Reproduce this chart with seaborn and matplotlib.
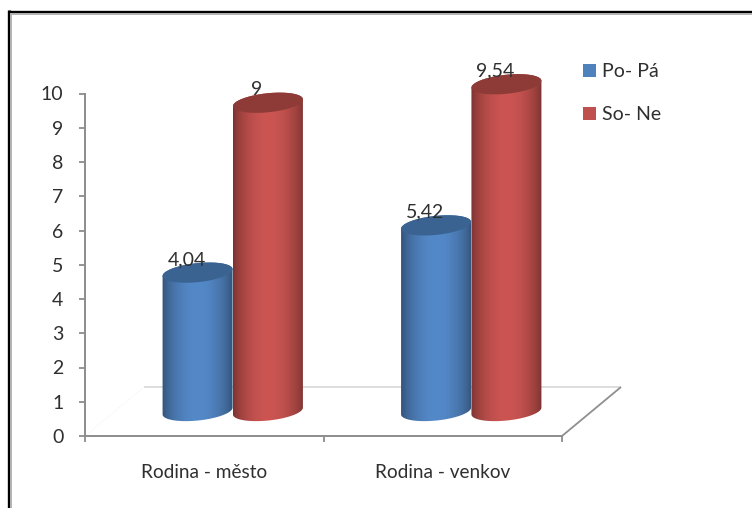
import numpy as np
import pandas as pd
import seaborn as sns
import matplotlib
matplotlib.use("Agg")
import matplotlib.pyplot as plt
from matplotlib.colors import LinearSegmentedColormap
from matplotlib.lines import Line2D
from matplotlib.patches import PathPatch, Patch
from matplotlib.path import Path
from matplotlib.transforms import Affine2D, IdentityTransform

categories = ["Rodina - město", "Rodina - venkov"]
periods = ["Po- Pá", "So- Ne"]
weekday_hours = [4.04, 5.42]
weekend_hours = [9, 9.54]
value_labels = [["4,04", "5,42"], ["9", "9,54"]]
y_ticks = list(range(0, 11))

W, H = 752, 508
AX_L, AX_R, AX_B, AX_T = 85, 562, 436, 93.5   # axes box, pixels from the top-left
BAR_SHIFT = (28.5, 25)                         # cylinders stand mid-way across the floor
FLOOR_DEPTH = (59, 49)
GRAY = "#8c8c8c"
TEXT = "#2f2f2f"
COLORS = {"Po- Pá": "#4f81bd", "So- Ne": "#c0504d"}
CAPS = {"Po- Pá": "#3a6392", "So- Ne": "#8e3b38"}

sns.set_theme(style="white", rc={"axes.facecolor": "none"})
plt.rcParams["font.family"] = ["Lato", "DejaVu Sans"]

fig = plt.figure(figsize=(W / 100, H / 100), dpi=100, facecolor="white")


def box(left, right, bottom, top):
    return [left / W, 1 - bottom / H, (right - left) / W, (bottom - top) / H]


def pixel_line(xs, ys, color, lw, ls="-"):
    fig.add_artist(Line2D(xs, ys, transform=IdentityTransform(), color=color,
                          lw=lw, ls=ls, zorder=-1, solid_capstyle="butt"))


# frame around the whole graphic: open on the right and at the bottom
pixel_line([8.7, 8.7], [0, H - 10], "black", 2.4)
pixel_line([7.5, W], [H - 11.5, H - 11.5], "black", 2.4)
pixel_line([11, 11], [0, H - 13], "#b5b5b5", 1.4)
pixel_line([11, W], [H - 14, H - 14], "#b5b5b5", 1.4)

# visible axes: value scale and floor edge
ax = fig.add_axes(box(AX_L, AX_R, AX_B, AX_T))
ax.set_xlim(-0.5, 1.5)
ax.set_ylim(0, 10)
ax.set_yticks(y_ticks)
ax.set_xticks([-0.5, 0.5, 1.5])
ax.set_xticklabels([])
ax.tick_params(axis="both", length=4.5, width=1.3, color=GRAY, left=True, bottom=True)
ax.tick_params(axis="y", labelsize=14, labelcolor=TEXT, pad=11)
for side in ("top", "right"):
    ax.spines[side].set_visible(False)
for side in ("left", "bottom"):
    ax.spines[side].set_color(GRAY)
    ax.spines[side].set_linewidth(1.4)
for i, name in enumerate(categories):
    ax.annotate(name, xy=(i, 0), xycoords=ax.get_xaxis_transform(),
                xytext=(0, -37 * 0.72), textcoords="offset points",
                ha="center", va="center", fontsize=13.7, color=TEXT)

# floor outline behind the cylinders
dx, dy = FLOOR_DEPTH
left_front = ax.transData.transform((-0.5, 0))
right_front = ax.transData.transform((1.5, 0))
back_left = left_front + (dx, dy)
back_right = right_front + (dx, dy)
pixel_line([back_left[0], back_right[0]], [back_left[1], back_right[1]], "#d4d4d4", 1.1)
pixel_line([right_front[0], back_right[0]], [right_front[1], back_right[1]], "#8f8f8f", 1.3)
pixel_line([left_front[0], back_left[0]], [left_front[1], back_left[1]], "#f0f0f0", 0.7, ":")

# cylinders live on an overlay with the same scale, slid back onto the floor
px_per_unit = (AX_B - AX_T) / 10
margin = 1.5
sx, sy = BAR_SHIFT
over = fig.add_axes(box(AX_L + sx, AX_R + sx,
                        AX_B - sy + margin * px_per_unit,
                        AX_T - sy - margin * px_per_unit))
over.set_facecolor("none")

df = pd.DataFrame({
    "category": categories * 2,
    "period": [periods[0]] * 2 + [periods[1]] * 2,
    "hours": weekday_hours + weekend_hours,
})
sns.barplot(data=df, x="category", y="hours", hue="period", hue_order=periods,
            order=categories, palette=COLORS, width=0.59, gap=0, legend=False,
            errorbar=None, ax=over)
over.set_xlim(-0.5, 1.5)
over.set_ylim(-margin, 10 + margin)
over.axis("off")


def ring(center, half_w, half_h, t0, t1, n=60):
    t = np.linspace(t0, t1, n)
    pts = np.column_stack([half_w * np.cos(t), half_h * np.sin(t)])
    return Affine2D().rotate_deg(6).translate(*center).transform(pts)


shade = np.linspace(0, 1, 256)
profile = 0.62 + 0.44 * np.sin(np.pi * shade) ** 0.7
bars = [p for p in over.patches if p.get_height() > 0]
for idx, bar in enumerate(bars):
    period = periods[idx // 2]
    base = np.array(matplotlib.colors.to_rgb(COLORS[period]))
    cmap = LinearSegmentedColormap.from_list(
        period, [np.clip(base * s, 0, 1) for s in profile])
    left, width, value = bar.get_x(), bar.get_width(), bar.get_height()
    bar.set_visible(False)
    x0, _ = over.transData.transform((left, 0))
    x1, y0 = over.transData.transform((left + width, 0))
    _, yv = over.transData.transform((left, value))
    half_w = (x1 - x0) / 2
    half_h = 9.5
    cx = (x0 + x1) / 2
    outline = np.vstack([
        ring((cx, y0), half_w, half_h, np.pi, 2 * np.pi),
        ring((cx, yv), half_w, half_h, 0, np.pi),
    ])
    body = Path(np.vstack([outline, outline[:1]]), closed=True)
    im = over.imshow(shade[None, :], cmap=cmap, aspect="auto", vmin=0, vmax=1,
                     extent=(left, left + width, -margin, 10 + margin),
                     zorder=2 + idx // 2, interpolation="bilinear")
    im.set_clip_path(body, IdentityTransform())
    cap = Path(ring((cx, yv), half_w, half_h, 0, 2 * np.pi), closed=True)
    over.add_patch(PathPatch(cap, transform=IdentityTransform(),
                             facecolor=CAPS[period], edgecolor="none",
                             zorder=2.5 + idx // 2))
    over.annotate(value_labels[idx // 2][idx % 2],
                  xy=(left + width / 2, value),
                  xytext=(-11 * 0.72, 13 * 0.72), textcoords="offset points",
                  ha="center", va="center", fontsize=14, color=TEXT, zorder=6)
over.set_xlim(-0.5, 1.5)
over.set_ylim(-margin, 10 + margin)

handles = [Patch(facecolor=COLORS[p], edgecolor="none", label=p) for p in periods]
fig.legend(handles=handles, loc="upper left", bbox_to_anchor=(583 / W, 1 - 63 / H),
           frameon=False, fontsize=14, labelcolor=TEXT, handlelength=0.65,
           handleheight=0.65, handletextpad=0.35, labelspacing=1.35,
           borderpad=0, borderaxespad=0)

fig.savefig("out.png", dpi=100)
